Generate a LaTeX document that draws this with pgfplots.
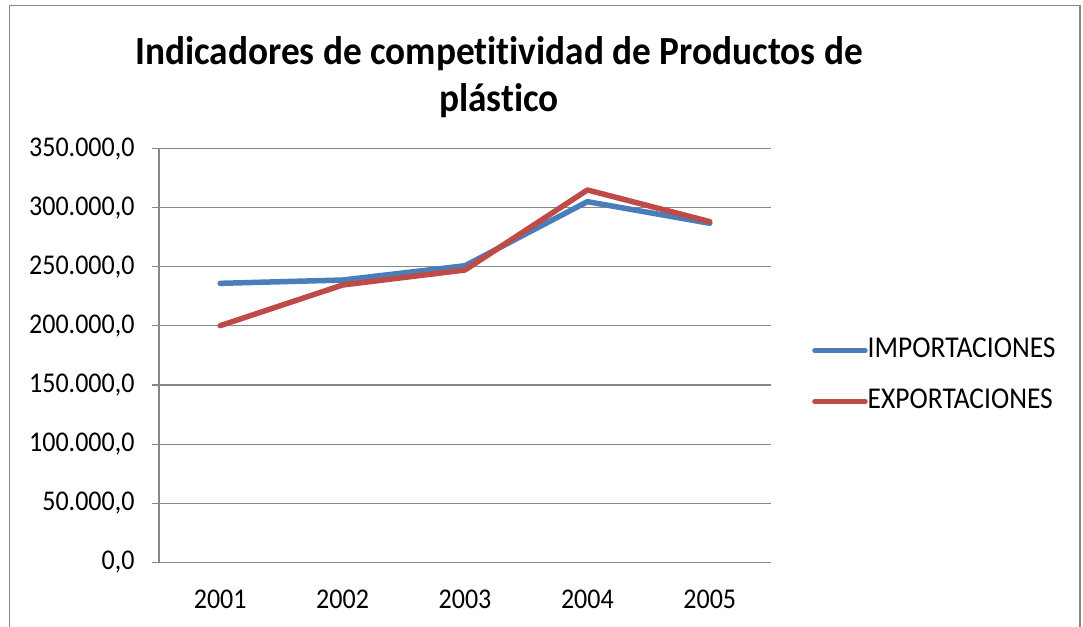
\documentclass[border=0pt]{standalone}
\usepackage{pgfplots}
\pgfplotsset{compat=1.18}
\usepackage{graphicx}
\usepackage{fontspec}
\setmainfont{Carlito}[Ligatures={NoCommon,NoContextual}]
\definecolor{impblue}{HTML}{4A7EBB}
\definecolor{expred}{HTML}{BE4B48}
\definecolor{gridgray}{HTML}{878787}
\newcommand{\tall}[1]{\scalebox{1}[1.1]{#1}}
\begin{document}
\begin{tikzpicture}[x=1pt,y=1pt]
\useasboundingbox (0,0) rectangle (1083,626);
\draw[gridgray, line width=1.5pt] (9.5,-5) -- (9.5,620.5) -- (1080,620.5) -- (1080,-5);
\node[font=\fontsize{37.3}{45}\selectfont\bfseries, align=center] at (499,549) {\scalebox{1}[1.07]{Indicadores de competitividad de Productos de}\\[2pt]\scalebox{1}[1.07]{pl\'astico}};
\begin{axis}[
  at={(159pt,63.7pt)}, anchor=south west,
  scale only axis, width=612pt, height=413.7pt,
  xmin=0.5, xmax=5.5, ymin=0, ymax=350000,
  xtick={1,2,3,4,5}, xticklabels={\tall{2001},\tall{2002},\tall{2003},\tall{2004},\tall{2005}},
  minor xtick={0.5,1.5,2.5,3.5,4.5,5.5},
  ytick={0,50000,...,350000},
  yticklabel={\tall{\pgfmathprintnumber{\tick}}},
  scaled y ticks=false,
  axis x line*=bottom, axis y line*=left,
  axis line style={gridgray, line width=1.2pt, -},
  x tick style={draw=none},
  minor x tick style={gridgray, line width=1.2pt},
  y tick style={gridgray, line width=1.2pt},
  tick align=outside, major tick length=7pt, minor tick length=7pt,
  ymajorgrids, grid style={gridgray, line width=1.2pt},
  ticklabel style={font=\fontsize{26}{30}\selectfont},
  xticklabel style={yshift=-17pt},
  yticklabel style={xshift=-14pt},
  /pgf/number format/.cd, fixed, fixed zerofill, precision=1, use comma, 1000 sep={.}, assume math mode=true,
  /pgfplots/.cd,
  legend style={at={(1.067,0.450)}, anchor=west, draw=none, fill=none, inner sep=0pt,
    font=\fontsize{27.5}{32}\selectfont, row sep=28pt,
    nodes={text height=18pt, text depth=5pt, inner sep=0pt}},
  legend cell align=left,
  legend image code/.code={\draw[line width=5pt, line cap=round] (2.5pt,0pt) -- (53pt,0pt);},
]
\addplot[impblue, line width=5.5pt, line join=round, line cap=round] coordinates {(1,236000) (2,238800) (3,250900) (4,305100) (5,286800)};
\addlegendentry{\tall{IMPORTACIONES}}
\addplot[expred, line width=5.5pt, line join=round, line cap=round] coordinates {(1,200200) (2,234600) (3,247300) (4,315000) (5,288200)};
\addlegendentry{\tall{EXPORTACIONES}}
\end{axis}
\end{tikzpicture}
\end{document}
